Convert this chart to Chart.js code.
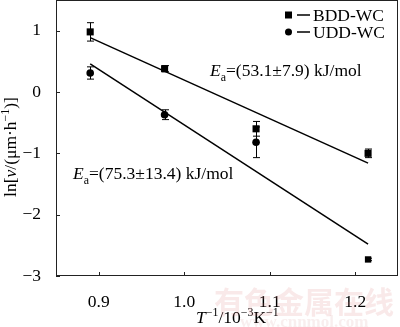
<!DOCTYPE html>
<html><head><meta charset="utf-8">
<script src="https://cdn.jsdelivr.net/npm/chart.js@4/dist/chart.umd.min.js"></script>
<style>html,body{margin:0;padding:0;background:#fff;overflow:hidden;width:400px;height:327px}#wrap{width:403px;height:332px;margin-top:-5px}</style>
</head><body><div id="wrap"><canvas id="c"></canvas></div>
<script>
// ---- data ----
const xValues = [0.89, 0.977, 1.084, 1.215];
const bddValues = [0.98, 0.38, -0.60, -1.00];
const bddErrors = [0.15, 0.05, 0.12, 0.07];
const uddValues = [0.31, -0.37, -0.82, -2.73];
const uddErrors = [0.10, 0.08, 0.25, 0.02];
const bddFitX = [0.89, 1.215];
const bddFitY = [0.886, -1.16];
const uddFitX = [0.89, 1.215];
const uddFitY = [0.46, -2.48];
const xTicks = [0.9, 1.0, 1.1, 1.2];
const yTicks = [-3, -2, -1, 0, 1];
const seriesNames = ['BDD-WC', 'UDD-WC'];
const bddLabel = 'E|a|=(53.1±7.9) kJ/mol';
const uddLabel = 'E|a|=(75.3±13.4) kJ/mol';

const SERIF = '"Liberation Serif", "Times New Roman", serif';
const FS = 17.5;
const OY = 5; // canvas is shifted up by this many px
const pts = (xs, ys) => xs.map((x, i) => ({x, y: ys[i]}));

function drawRich(ctx, parts, x, y, size) {
  let cx = x;
  for (const p of parts) {
    const fs = p.sup || p.sub ? size * 0.68 : size;
    ctx.font = (p.italic ? 'italic ' : '') + fs + 'px ' + SERIF;
    const dy = p.sup ? -size * 0.38 : (p.sub ? size * 0.28 : 0);
    ctx.fillText(p.t, cx, y + dy);
    cx += ctx.measureText(p.t).width;
  }
  return cx - x;
}
function richWidth(ctx, parts, size) {
  let w = 0;
  for (const p of parts) {
    const fs = p.sup || p.sub ? size * 0.68 : size;
    ctx.font = (p.italic ? 'italic ' : '') + fs + 'px ' + SERIF;
    w += ctx.measureText(p.t).width;
  }
  return w;
}
function eaParts(label) {
  const s = label.split('|');
  return [{t: s[0], italic: true}, {t: s[1], sub: true}, {t: s[2]}];
}

const overlay = {
  id: 'overlay',
  afterDraw(chart) {
    const ctx = chart.ctx, xs = chart.scales.x, ys = chart.scales.y, a = chart.chartArea;
    ctx.save();
    ctx.strokeStyle = '#000'; ctx.fillStyle = '#000'; ctx.lineWidth = 1;
    // error bars
    const drawErr = (vals, errs) => {
      vals.forEach((v, i) => {
        const px = Math.round(xs.getPixelForValue(xValues[i])) + 0.5;
        const t = ys.getPixelForValue(v + errs[i]), b = ys.getPixelForValue(v - errs[i]);
        ctx.beginPath();
        ctx.moveTo(px, t); ctx.lineTo(px, b);
        ctx.moveTo(px - 3.5, t); ctx.lineTo(px + 3.5, t);
        ctx.moveTo(px - 3.5, b); ctx.lineTo(px + 3.5, b);
        ctx.stroke();
      });
    };
    drawErr(bddValues, bddErrors);
    drawErr(uddValues, uddErrors);
    // frame
    ctx.strokeStyle = '#222';
    ctx.strokeRect(Math.round(a.left) + 0.5, Math.round(a.top) + 0.5,
      Math.round(a.right - a.left) - 1, Math.round(a.bottom - a.top) - 1);
    // inward ticks
    ctx.beginPath();
    xTicks.forEach(v => { const p = Math.round(xs.getPixelForValue(v)) + 0.5; ctx.moveTo(p, a.bottom); ctx.lineTo(p, a.bottom - 4); });
    yTicks.forEach(v => { const p = Math.round(ys.getPixelForValue(v)) + 0.5; ctx.moveTo(a.left, p); ctx.lineTo(a.left + 4, p); });
    ctx.stroke();
    ctx.strokeStyle = '#000';
    // texts in screen coordinates
    ctx.translate(0, OY);
    // legend
    ctx.textBaseline = 'middle';
    const ly = [15, 32];
    ctx.fillRect(285, ly[0] - 3.5, 7, 7);
    ctx.beginPath(); ctx.arc(288.5, ly[1], 3.5, 0, Math.PI * 2); ctx.fill();
    ctx.lineWidth = 1.5;
    ctx.beginPath();
    ly.forEach(y => { ctx.moveTo(297, y); ctx.lineTo(310, y); });
    ctx.stroke();
    ctx.font = FS + 'px ' + SERIF;
    ctx.textAlign = 'left';
    ctx.fillText(seriesNames[0], 313, ly[0] + 1);
    ctx.fillText(seriesNames[1], 313, ly[1] + 1);
    // annotations
    ctx.textBaseline = 'alphabetic';
    drawRich(ctx, eaParts(bddLabel), 210, 76, FS);
    drawRich(ctx, eaParts(uddLabel), 73, 179, FS);
    // x title
    const xt = [{t: 'T', italic: true}, {t: '−1', sup: true}, {t: '/10'}, {t: '−3', sup: true}, {t: 'K'}, {t: '−1', sup: true}];
    drawRich(ctx, xt, 196, 323, FS);
    // y title
    const yt = [{t: 'ln['}, {t: 'v', italic: true}, {t: '/(μm·h'}, {t: '−1', sup: true}, {t: ')]'}];
    const w = richWidth(ctx, yt, FS);
    ctx.save();
    ctx.translate(16, 147);
    ctx.rotate(-Math.PI / 2);
    drawRich(ctx, yt, -w / 2, 0, FS);
    ctx.restore();
    // watermark
    ctx.fillStyle = 'rgba(215,120,120,0.16)';
    ctx.font = 'bold 30px "Noto Sans CJK SC"';
    ctx.fillText('有色金属在线', 214, 313);
    ctx.fillStyle = 'rgba(200,120,120,0.13)';
    ctx.font = 'bold 17px ' + SERIF;
    ctx.fillText('www.cnnmol.com', 240, 327);
    ctx.restore();
  }
};

new Chart(document.getElementById('c'), {
  type: 'scatter',
  data: {
    datasets: [
      {label: seriesNames[0] + ' fit', type: 'line', data: pts(bddFitX, bddFitY), borderColor: '#000', borderWidth: 1.5, pointRadius: 0, fill: false},
      {label: seriesNames[1] + ' fit', type: 'line', data: pts(uddFitX, uddFitY), borderColor: '#000', borderWidth: 1.5, pointRadius: 0, fill: false},
      {label: seriesNames[0], data: pts(xValues, bddValues), pointStyle: 'rect', pointRadius: 5, backgroundColor: '#000', borderColor: '#000', borderWidth: 0},
      {label: seriesNames[1], data: pts(xValues, uddValues), pointStyle: ['circle', 'circle', 'circle', 'rect'], pointRadius: [3.8, 3.8, 3.8, 4.5], backgroundColor: '#000', borderColor: '#000', borderWidth: 0}
    ]
  },
  options: {
    responsive: true, maintainAspectRatio: false, animation: false,
    layout: {padding: {top: 5, right: 5, left: 0, bottom: 0}},
    plugins: {legend: {display: false}, tooltip: {enabled: false}},
    scales: {
      x: {
        type: 'linear', min: 0.85, max: 1.25,
        grid: {display: false}, border: {display: false},
        afterBuildTicks: s => { s.ticks = xTicks.map(v => ({value: v})); },
        afterFit: s => { s.height = 51; s.paddingLeft = 0; s.paddingRight = 0; },
        ticks: {color: '#000', padding: 8, font: {family: SERIF, size: FS}, maxRotation: 0,
          callback: v => v.toFixed(1)}
      },
      y: {
        type: 'linear', min: -3, max: 1.5,
        grid: {display: false}, border: {display: false},
        afterBuildTicks: s => { s.ticks = yTicks.map(v => ({value: v})); },
        afterFit: s => { s.width = 56; s.paddingTop = 0; s.paddingBottom = 0; },
        ticks: {color: '#000', padding: 7, font: {family: SERIF, size: FS},
          callback: v => String(v).replace('-', '−')}
      }
    }
  },
  plugins: [overlay]
});
</script></body></html>
